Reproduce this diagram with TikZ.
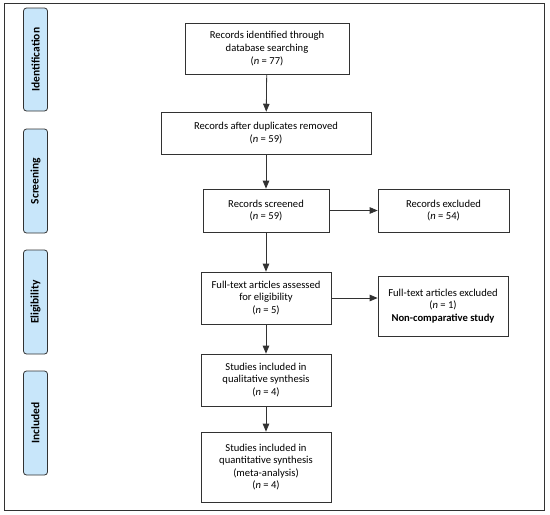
\documentclass[tikz,border=0pt]{standalone}
\usepackage{fontspec}
\setmainfont{Carlito}
\usetikzlibrary{arrows}
\definecolor{stagefill}{RGB}{200,230,250}
\definecolor{linegray}{RGB}{50,50,50}
\newcommand{\nn}[1]{(\textit{n} = #1)}

\begin{document}
\begin{tikzpicture}[
		x=1pt, y=-1pt,
		font=\fontsize{10.6}{12.6}\selectfont,
		box/.style={rectangle,draw=linegray,line width=0.8pt,align=center,
		inner sep=1pt},
		stage/.style={rectangle,rounded corners=3pt,draw=linegray,
		line width=0.8pt,fill=stagefill,rotate=90,
		font=\fontsize{11.5}{12}\selectfont\bfseries,
		minimum height=24pt,inner sep=0pt},
		flow/.style={>=triangle 45,draw=linegray,line width=0.8pt,->}
		]
		\useasboundingbox (0,0) rectangle (550,515);
		\draw[linegray, line width=0.9pt] (4,3) rectangle (544,510);
		% stages
		\node[stage, minimum width=103pt] (ident) at (35.5,59.5) {Identification};
		\node[stage, minimum width=104pt] (screen) at (35.5,181) {Screening};
		\node[stage, minimum width=104pt] (elig) at (35.5,302) {Eligibility};
		\node[stage, minimum width=104pt] (incl) at (35.5,423) {Included};
		% boxes
		\node[box, minimum width=164pt, minimum height=51pt] (rec1) at (267,48.5)
			{Records identified through\\database searching\\\nn{77}};
		\node[box, minimum width=210pt, minimum height=42pt] (rec2) at (266,133)
			{Records after duplicates removed\\\nn{59}};
		\node[box, minimum width=126pt, minimum height=43pt] (rec3) at (266,210.5)
			{Records screened\\\nn{59}};
		\node[box, minimum width=131pt, minimum height=43pt] (exc1) at (443.5,210.5)
			{Records excluded\\\nn{54}};
		\node[box, minimum width=130pt, minimum height=52pt] (full) at (266,298)
			{Full-text articles assessed\\for eligibility\\\nn{5}};
		\node[box, minimum width=130pt, minimum height=60pt] (exc2) at (443,306)
			{Full-text articles excluded\\\nn{1}\\\textbf{Non-comparative study}};
		\node[box, minimum width=130pt, minimum height=52pt] (qual) at (266,380)
			{Studies included in\\qualitative synthesis\\\nn{4}};
		\node[box, minimum width=130pt, minimum height=70pt] (quant) at (266,467)
			{Studies included in\\quantitative synthesis\\(meta-analysis)\\\nn{4}};
		% arrows
		\draw[flow] (rec1) -- (rec2);
		\draw[flow] (rec2) -- (rec3);
		\draw[flow] (rec3) -- (exc1);
		\draw[flow] (rec3) -- (full);
		\draw[flow] (full.east) -- (full.east -| exc2.west);
		\draw[flow] (full) -- (qual);
		\draw[flow] (qual) -- (quant);
	\end{tikzpicture}
\end{document}
